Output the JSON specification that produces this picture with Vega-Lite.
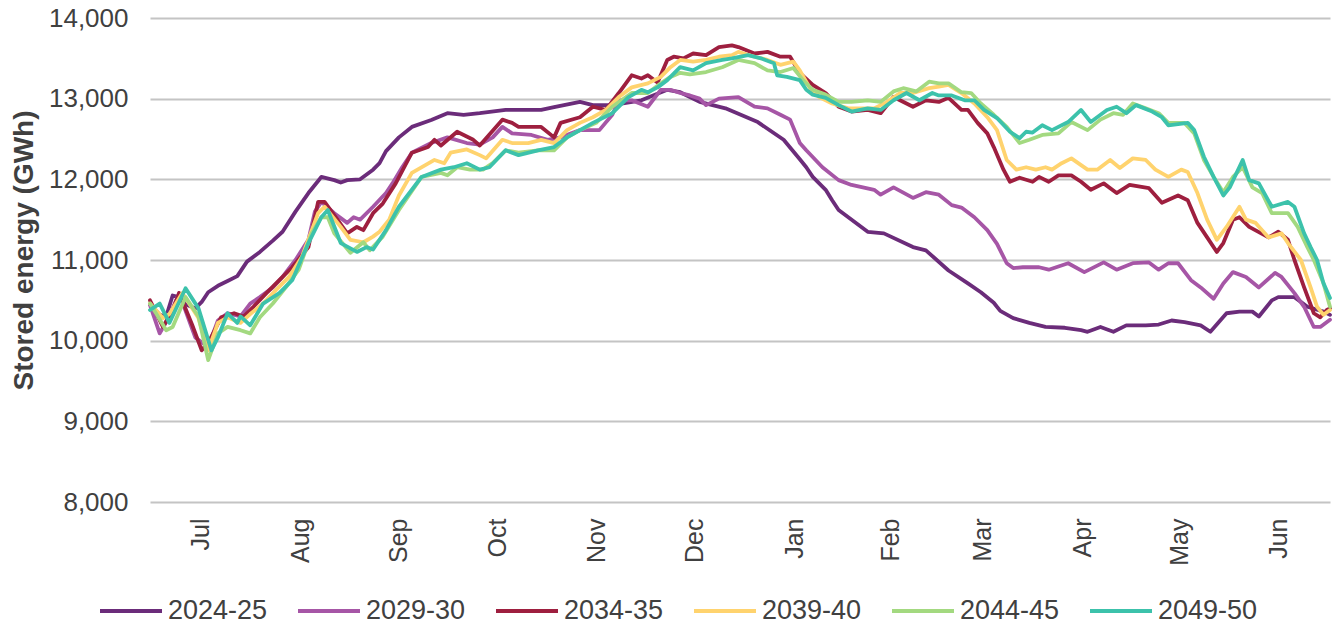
{
  "$schema": "https://vega.github.io/schema/vega-lite/v6.json",
  "width": 1180,
  "height": 484,
  "autosize": {"type": "none"},
  "padding": {"left": 150, "top": 18, "right": 8, "bottom": 128},
  "background": "white",
  "config": {
    "font": "Liberation Sans",
    "view": {"stroke": null},
    "axis": {"labelColor": "#404040", "titleColor": "#404040"}
  },
  "data": {
    "values": [
      {"series":"2024-25","day":0,"gwh":10450},{"series":"2024-25","day":3,"gwh":10320},{"series":"2024-25","day":5,"gwh":10300},{"series":"2024-25","day":7,"gwh":10560},{"series":"2024-25","day":9,"gwh":10540},{"series":"2024-25","day":11,"gwh":10450},{"series":"2024-25","day":14,"gwh":10400},{"series":"2024-25","day":16,"gwh":10480},{"series":"2024-25","day":18,"gwh":10600},{"series":"2024-25","day":21,"gwh":10680},{"series":"2024-25","day":24,"gwh":10740},{"series":"2024-25","day":27,"gwh":10800},{"series":"2024-25","day":30,"gwh":10980},{"series":"2024-25","day":34,"gwh":11100},{"series":"2024-25","day":38,"gwh":11240},{"series":"2024-25","day":41,"gwh":11350},{"series":"2024-25","day":45,"gwh":11600},{"series":"2024-25","day":49,"gwh":11830},{"series":"2024-25","day":52,"gwh":11980},{"series":"2024-25","day":53,"gwh":12030},{"series":"2024-25","day":57,"gwh":11990},{"series":"2024-25","day":59,"gwh":11960},{"series":"2024-25","day":61,"gwh":11990},{"series":"2024-25","day":65,"gwh":12000},{"series":"2024-25","day":69,"gwh":12120},{"series":"2024-25","day":71,"gwh":12200},{"series":"2024-25","day":73,"gwh":12350},{"series":"2024-25","day":77,"gwh":12520},{"series":"2024-25","day":81,"gwh":12650},{"series":"2024-25","day":87,"gwh":12735},{"series":"2024-25","day":92,"gwh":12820},{"series":"2024-25","day":97,"gwh":12800},{"series":"2024-25","day":102,"gwh":12820},{"series":"2024-25","day":110,"gwh":12860},{"series":"2024-25","day":121,"gwh":12860},{"series":"2024-25","day":125,"gwh":12895},{"series":"2024-25","day":133,"gwh":12960},{"series":"2024-25","day":137,"gwh":12920},{"series":"2024-25","day":143,"gwh":12920},{"series":"2024-25","day":152,"gwh":12980},{"series":"2024-25","day":160,"gwh":13110},{"series":"2024-25","day":164,"gwh":13080},{"series":"2024-25","day":170,"gwh":12960},{"series":"2024-25","day":178,"gwh":12880},{"series":"2024-25","day":188,"gwh":12710},{"series":"2024-25","day":196,"gwh":12490},{"series":"2024-25","day":201,"gwh":12250},{"series":"2024-25","day":203,"gwh":12150},{"series":"2024-25","day":205,"gwh":12030},{"series":"2024-25","day":209,"gwh":11870},{"series":"2024-25","day":211,"gwh":11740},{"series":"2024-25","day":213,"gwh":11620},{"series":"2024-25","day":222,"gwh":11350},{"series":"2024-25","day":227,"gwh":11330},{"series":"2024-25","day":236,"gwh":11160},{"series":"2024-25","day":240,"gwh":11120},{"series":"2024-25","day":247,"gwh":10870},{"series":"2024-25","day":253,"gwh":10710},{"series":"2024-25","day":257,"gwh":10600},{"series":"2024-25","day":261,"gwh":10470},{"series":"2024-25","day":263,"gwh":10370},{"series":"2024-25","day":267,"gwh":10280},{"series":"2024-25","day":272,"gwh":10220},{"series":"2024-25","day":277,"gwh":10170},{"series":"2024-25","day":283,"gwh":10160},{"series":"2024-25","day":288,"gwh":10130},{"series":"2024-25","day":290,"gwh":10110},{"series":"2024-25","day":294,"gwh":10170},{"series":"2024-25","day":298,"gwh":10110},{"series":"2024-25","day":302,"gwh":10190},{"series":"2024-25","day":308,"gwh":10190},{"series":"2024-25","day":312,"gwh":10200},{"series":"2024-25","day":316,"gwh":10250},{"series":"2024-25","day":320,"gwh":10230},{"series":"2024-25","day":325,"gwh":10190},{"series":"2024-25","day":328,"gwh":10110},{"series":"2024-25","day":333,"gwh":10340},{"series":"2024-25","day":337,"gwh":10360},{"series":"2024-25","day":341,"gwh":10360},{"series":"2024-25","day":343,"gwh":10300},{"series":"2024-25","day":347,"gwh":10500},{"series":"2024-25","day":349,"gwh":10540},{"series":"2024-25","day":354,"gwh":10540},{"series":"2024-25","day":358,"gwh":10420},{"series":"2024-25","day":363,"gwh":10360},{"series":"2024-25","day":365,"gwh":10320},

      {"series":"2029-30","day":0,"gwh":10440},{"series":"2029-30","day":3,"gwh":10090},{"series":"2029-30","day":6,"gwh":10300},{"series":"2029-30","day":9,"gwh":10590},{"series":"2029-30","day":14,"gwh":10040},{"series":"2029-30","day":18,"gwh":9920},{"series":"2029-30","day":21,"gwh":10250},{"series":"2029-30","day":24,"gwh":10340},{"series":"2029-30","day":28,"gwh":10300},{"series":"2029-30","day":31,"gwh":10460},{"series":"2029-30","day":34,"gwh":10540},{"series":"2029-30","day":38,"gwh":10660},{"series":"2029-30","day":41,"gwh":10790},{"series":"2029-30","day":45,"gwh":11000},{"series":"2029-30","day":49,"gwh":11250},{"series":"2029-30","day":51,"gwh":11600},{"series":"2029-30","day":53,"gwh":11720},{"series":"2029-30","day":57,"gwh":11580},{"series":"2029-30","day":61,"gwh":11460},{"series":"2029-30","day":63,"gwh":11530},{"series":"2029-30","day":65,"gwh":11500},{"series":"2029-30","day":69,"gwh":11660},{"series":"2029-30","day":73,"gwh":11830},{"series":"2029-30","day":75,"gwh":11950},{"series":"2029-30","day":78,"gwh":12150},{"series":"2029-30","day":81,"gwh":12330},{"series":"2029-30","day":87,"gwh":12450},{"series":"2029-30","day":92,"gwh":12520},{"series":"2029-30","day":98,"gwh":12450},{"series":"2029-30","day":102,"gwh":12430},{"series":"2029-30","day":106,"gwh":12520},{"series":"2029-30","day":109,"gwh":12650},{"series":"2029-30","day":112,"gwh":12570},{"series":"2029-30","day":118,"gwh":12550},{"series":"2029-30","day":123,"gwh":12490},{"series":"2029-30","day":127,"gwh":12520},{"series":"2029-30","day":133,"gwh":12610},{"series":"2029-30","day":139,"gwh":12610},{"series":"2029-30","day":143,"gwh":12800},{"series":"2029-30","day":145,"gwh":12980},{"series":"2029-30","day":149,"gwh":12980},{"series":"2029-30","day":154,"gwh":12900},{"series":"2029-30","day":158,"gwh":13110},{"series":"2029-30","day":161,"gwh":13110},{"series":"2029-30","day":164,"gwh":13070},{"series":"2029-30","day":167,"gwh":13040},{"series":"2029-30","day":170,"gwh":13000},{"series":"2029-30","day":172,"gwh":12920},{"series":"2029-30","day":176,"gwh":13000},{"series":"2029-30","day":182,"gwh":13020},{"series":"2029-30","day":187,"gwh":12900},{"series":"2029-30","day":191,"gwh":12880},{"series":"2029-30","day":195,"gwh":12800},{"series":"2029-30","day":198,"gwh":12740},{"series":"2029-30","day":201,"gwh":12450},{"series":"2029-30","day":203,"gwh":12360},{"series":"2029-30","day":208,"gwh":12150},{"series":"2029-30","day":213,"gwh":11990},{"series":"2029-30","day":217,"gwh":11930},{"series":"2029-30","day":224,"gwh":11870},{"series":"2029-30","day":226,"gwh":11810},{"series":"2029-30","day":230,"gwh":11900},{"series":"2029-30","day":236,"gwh":11770},{"series":"2029-30","day":240,"gwh":11840},{"series":"2029-30","day":244,"gwh":11810},{"series":"2029-30","day":248,"gwh":11680},{"series":"2029-30","day":251,"gwh":11650},{"series":"2029-30","day":255,"gwh":11530},{"series":"2029-30","day":259,"gwh":11370},{"series":"2029-30","day":262,"gwh":11200},{"series":"2029-30","day":265,"gwh":10960},{"series":"2029-30","day":267,"gwh":10900},{"series":"2029-30","day":270,"gwh":10910},{"series":"2029-30","day":275,"gwh":10910},{"series":"2029-30","day":278,"gwh":10880},{"series":"2029-30","day":284,"gwh":10960},{"series":"2029-30","day":289,"gwh":10850},{"series":"2029-30","day":295,"gwh":10970},{"series":"2029-30","day":299,"gwh":10880},{"series":"2029-30","day":304,"gwh":10960},{"series":"2029-30","day":309,"gwh":10970},{"series":"2029-30","day":312,"gwh":10880},{"series":"2029-30","day":315,"gwh":10960},{"series":"2029-30","day":318,"gwh":10960},{"series":"2029-30","day":322,"gwh":10750},{"series":"2029-30","day":325,"gwh":10660},{"series":"2029-30","day":329,"gwh":10520},{"series":"2029-30","day":332,"gwh":10710},{"series":"2029-30","day":335,"gwh":10850},{"series":"2029-30","day":339,"gwh":10790},{"series":"2029-30","day":343,"gwh":10660},{"series":"2029-30","day":348,"gwh":10840},{"series":"2029-30","day":350,"gwh":10790},{"series":"2029-30","day":354,"gwh":10590},{"series":"2029-30","day":357,"gwh":10420},{"series":"2029-30","day":360,"gwh":10170},{"series":"2029-30","day":362,"gwh":10170},{"series":"2029-30","day":365,"gwh":10260},

      {"series":"2034-35","day":0,"gwh":10500},{"series":"2034-35","day":4,"gwh":10170},{"series":"2034-35","day":7,"gwh":10380},{"series":"2034-35","day":9,"gwh":10590},{"series":"2034-35","day":13,"gwh":10200},{"series":"2034-35","day":16,"gwh":9880},{"series":"2034-35","day":18,"gwh":9970},{"series":"2034-35","day":22,"gwh":10290},{"series":"2034-35","day":26,"gwh":10340},{"series":"2034-35","day":29,"gwh":10300},{"series":"2034-35","day":32,"gwh":10420},{"series":"2034-35","day":36,"gwh":10590},{"series":"2034-35","day":40,"gwh":10750},{"series":"2034-35","day":44,"gwh":10910},{"series":"2034-35","day":49,"gwh":11160},{"series":"2034-35","day":52,"gwh":11720},{"series":"2034-35","day":54,"gwh":11720},{"series":"2034-35","day":58,"gwh":11500},{"series":"2034-35","day":61,"gwh":11330},{"series":"2034-35","day":64,"gwh":11410},{"series":"2034-35","day":66,"gwh":11370},{"series":"2034-35","day":69,"gwh":11580},{"series":"2034-35","day":72,"gwh":11700},{"series":"2034-35","day":76,"gwh":11950},{"series":"2034-35","day":81,"gwh":12330},{"series":"2034-35","day":86,"gwh":12400},{"series":"2034-35","day":88,"gwh":12490},{"series":"2034-35","day":90,"gwh":12420},{"series":"2034-35","day":95,"gwh":12590},{"series":"2034-35","day":100,"gwh":12490},{"series":"2034-35","day":102,"gwh":12420},{"series":"2034-35","day":109,"gwh":12740},{"series":"2034-35","day":112,"gwh":12700},{"series":"2034-35","day":114,"gwh":12650},{"series":"2034-35","day":121,"gwh":12650},{"series":"2034-35","day":125,"gwh":12520},{"series":"2034-35","day":127,"gwh":12700},{"series":"2034-35","day":133,"gwh":12770},{"series":"2034-35","day":137,"gwh":12900},{"series":"2034-35","day":141,"gwh":12860},{"series":"2034-35","day":145,"gwh":13070},{"series":"2034-35","day":149,"gwh":13290},{"series":"2034-35","day":152,"gwh":13250},{"series":"2034-35","day":154,"gwh":13290},{"series":"2034-35","day":157,"gwh":13200},{"series":"2034-35","day":160,"gwh":13480},{"series":"2034-35","day":162,"gwh":13520},{"series":"2034-35","day":165,"gwh":13500},{"series":"2034-35","day":168,"gwh":13560},{"series":"2034-35","day":172,"gwh":13540},{"series":"2034-35","day":176,"gwh":13640},{"series":"2034-35","day":180,"gwh":13660},{"series":"2034-35","day":182,"gwh":13640},{"series":"2034-35","day":187,"gwh":13560},{"series":"2034-35","day":191,"gwh":13580},{"series":"2034-35","day":195,"gwh":13520},{"series":"2034-35","day":198,"gwh":13520},{"series":"2034-35","day":201,"gwh":13320},{"series":"2034-35","day":205,"gwh":13170},{"series":"2034-35","day":209,"gwh":13070},{"series":"2034-35","day":213,"gwh":12900},{"series":"2034-35","day":217,"gwh":12840},{"series":"2034-35","day":222,"gwh":12860},{"series":"2034-35","day":226,"gwh":12820},{"series":"2034-35","day":230,"gwh":13020},{"series":"2034-35","day":236,"gwh":12900},{"series":"2034-35","day":240,"gwh":12980},{"series":"2034-35","day":244,"gwh":12960},{"series":"2034-35","day":247,"gwh":13010},{"series":"2034-35","day":251,"gwh":12860},{"series":"2034-35","day":253,"gwh":12860},{"series":"2034-35","day":256,"gwh":12700},{"series":"2034-35","day":259,"gwh":12570},{"series":"2034-35","day":261,"gwh":12400},{"series":"2034-35","day":264,"gwh":12120},{"series":"2034-35","day":266,"gwh":11970},{"series":"2034-35","day":269,"gwh":12020},{"series":"2034-35","day":273,"gwh":11970},{"series":"2034-35","day":275,"gwh":12030},{"series":"2034-35","day":278,"gwh":11970},{"series":"2034-35","day":281,"gwh":12050},{"series":"2034-35","day":285,"gwh":12050},{"series":"2034-35","day":288,"gwh":11970},{"series":"2034-35","day":291,"gwh":11870},{"series":"2034-35","day":295,"gwh":11950},{"series":"2034-35","day":299,"gwh":11830},{"series":"2034-35","day":303,"gwh":11930},{"series":"2034-35","day":309,"gwh":11890},{"series":"2034-35","day":313,"gwh":11710},{"series":"2034-35","day":318,"gwh":11800},{"series":"2034-35","day":321,"gwh":11740},{"series":"2034-35","day":324,"gwh":11460},{"series":"2034-35","day":327,"gwh":11280},{"series":"2034-35","day":330,"gwh":11100},{"series":"2034-35","day":332,"gwh":11210},{"series":"2034-35","day":335,"gwh":11500},{"series":"2034-35","day":337,"gwh":11530},{"series":"2034-35","day":340,"gwh":11410},{"series":"2034-35","day":346,"gwh":11280},{"series":"2034-35","day":349,"gwh":11350},{"series":"2034-35","day":352,"gwh":11250},{"series":"2034-35","day":354,"gwh":11000},{"series":"2034-35","day":357,"gwh":10660},{"series":"2034-35","day":360,"gwh":10340},{"series":"2034-35","day":362,"gwh":10290},{"series":"2034-35","day":364,"gwh":10380},{"series":"2034-35","day":365,"gwh":10400},

      {"series":"2039-40","day":0,"gwh":10460},{"series":"2039-40","day":4,"gwh":10280},{"series":"2039-40","day":6,"gwh":10330},{"series":"2039-40","day":10,"gwh":10590},{"series":"2039-40","day":15,"gwh":10280},{"series":"2039-40","day":18,"gwh":9880},{"series":"2039-40","day":21,"gwh":10220},{"series":"2039-40","day":24,"gwh":10290},{"series":"2039-40","day":28,"gwh":10220},{"series":"2039-40","day":31,"gwh":10330},{"series":"2039-40","day":35,"gwh":10460},{"series":"2039-40","day":39,"gwh":10630},{"series":"2039-40","day":43,"gwh":10790},{"series":"2039-40","day":47,"gwh":11040},{"series":"2039-40","day":52,"gwh":11580},{"series":"2039-40","day":54,"gwh":11660},{"series":"2039-40","day":59,"gwh":11410},{"series":"2039-40","day":62,"gwh":11250},{"series":"2039-40","day":66,"gwh":11220},{"series":"2039-40","day":69,"gwh":11290},{"series":"2039-40","day":71,"gwh":11350},{"series":"2039-40","day":74,"gwh":11500},{"series":"2039-40","day":77,"gwh":11800},{"series":"2039-40","day":81,"gwh":12080},{"series":"2039-40","day":88,"gwh":12240},{"series":"2039-40","day":91,"gwh":12200},{"series":"2039-40","day":93,"gwh":12330},{"series":"2039-40","day":98,"gwh":12370},{"series":"2039-40","day":102,"gwh":12300},{"series":"2039-40","day":104,"gwh":12260},{"series":"2039-40","day":109,"gwh":12490},{"series":"2039-40","day":112,"gwh":12450},{"series":"2039-40","day":117,"gwh":12450},{"series":"2039-40","day":121,"gwh":12490},{"series":"2039-40","day":125,"gwh":12450},{"series":"2039-40","day":129,"gwh":12610},{"series":"2039-40","day":133,"gwh":12700},{"series":"2039-40","day":137,"gwh":12770},{"series":"2039-40","day":141,"gwh":12860},{"series":"2039-40","day":145,"gwh":13020},{"series":"2039-40","day":149,"gwh":13140},{"series":"2039-40","day":154,"gwh":13190},{"series":"2039-40","day":158,"gwh":13270},{"series":"2039-40","day":161,"gwh":13390},{"series":"2039-40","day":164,"gwh":13480},{"series":"2039-40","day":168,"gwh":13460},{"series":"2039-40","day":172,"gwh":13480},{"series":"2039-40","day":176,"gwh":13520},{"series":"2039-40","day":180,"gwh":13540},{"series":"2039-40","day":182,"gwh":13580},{"series":"2039-40","day":187,"gwh":13520},{"series":"2039-40","day":191,"gwh":13480},{"series":"2039-40","day":195,"gwh":13420},{"series":"2039-40","day":199,"gwh":13460},{"series":"2039-40","day":201,"gwh":13350},{"series":"2039-40","day":204,"gwh":13140},{"series":"2039-40","day":207,"gwh":13020},{"series":"2039-40","day":211,"gwh":12940},{"series":"2039-40","day":216,"gwh":12880},{"series":"2039-40","day":220,"gwh":12880},{"series":"2039-40","day":224,"gwh":12880},{"series":"2039-40","day":228,"gwh":12960},{"series":"2039-40","day":232,"gwh":13070},{"series":"2039-40","day":236,"gwh":13070},{"series":"2039-40","day":241,"gwh":13130},{"series":"2039-40","day":244,"gwh":13150},{"series":"2039-40","day":247,"gwh":13170},{"series":"2039-40","day":251,"gwh":13070},{"series":"2039-40","day":255,"gwh":12940},{"series":"2039-40","day":259,"gwh":12770},{"series":"2039-40","day":262,"gwh":12610},{"series":"2039-40","day":265,"gwh":12240},{"series":"2039-40","day":268,"gwh":12120},{"series":"2039-40","day":271,"gwh":12150},{"series":"2039-40","day":274,"gwh":12120},{"series":"2039-40","day":277,"gwh":12150},{"series":"2039-40","day":279,"gwh":12120},{"series":"2039-40","day":282,"gwh":12200},{"series":"2039-40","day":285,"gwh":12260},{"series":"2039-40","day":290,"gwh":12120},{"series":"2039-40","day":293,"gwh":12120},{"series":"2039-40","day":297,"gwh":12240},{"series":"2039-40","day":300,"gwh":12140},{"series":"2039-40","day":304,"gwh":12260},{"series":"2039-40","day":308,"gwh":12240},{"series":"2039-40","day":311,"gwh":12120},{"series":"2039-40","day":315,"gwh":12030},{"series":"2039-40","day":319,"gwh":12120},{"series":"2039-40","day":321,"gwh":12090},{"series":"2039-40","day":324,"gwh":11830},{"series":"2039-40","day":327,"gwh":11500},{"series":"2039-40","day":330,"gwh":11250},{"series":"2039-40","day":333,"gwh":11410},{"series":"2039-40","day":337,"gwh":11660},{"series":"2039-40","day":339,"gwh":11500},{"series":"2039-40","day":342,"gwh":11460},{"series":"2039-40","day":346,"gwh":11280},{"series":"2039-40","day":350,"gwh":11330},{"series":"2039-40","day":352,"gwh":11210},{"series":"2039-40","day":356,"gwh":11000},{"series":"2039-40","day":359,"gwh":10660},{"series":"2039-40","day":361,"gwh":10420},{"series":"2039-40","day":363,"gwh":10320},{"series":"2039-40","day":365,"gwh":10380},

      {"series":"2044-45","day":0,"gwh":10460},{"series":"2044-45","day":2,"gwh":10330},{"series":"2044-45","day":5,"gwh":10130},{"series":"2044-45","day":7,"gwh":10170},{"series":"2044-45","day":11,"gwh":10540},{"series":"2044-45","day":15,"gwh":10300},{"series":"2044-45","day":18,"gwh":9760},{"series":"2044-45","day":21,"gwh":10090},{"series":"2044-45","day":24,"gwh":10170},{"series":"2044-45","day":28,"gwh":10130},{"series":"2044-45","day":31,"gwh":10090},{"series":"2044-45","day":34,"gwh":10290},{"series":"2044-45","day":38,"gwh":10460},{"series":"2044-45","day":42,"gwh":10660},{"series":"2044-45","day":46,"gwh":10880},{"series":"2044-45","day":50,"gwh":11330},{"series":"2044-45","day":53,"gwh":11530},{"series":"2044-45","day":55,"gwh":11530},{"series":"2044-45","day":57,"gwh":11330},{"series":"2044-45","day":62,"gwh":11090},{"series":"2044-45","day":66,"gwh":11220},{"series":"2044-45","day":68,"gwh":11120},{"series":"2044-45","day":72,"gwh":11290},{"series":"2044-45","day":77,"gwh":11620},{"series":"2044-45","day":84,"gwh":12030},{"series":"2044-45","day":90,"gwh":12080},{"series":"2044-45","day":92,"gwh":12050},{"series":"2044-45","day":95,"gwh":12150},{"series":"2044-45","day":99,"gwh":12120},{"series":"2044-45","day":103,"gwh":12120},{"series":"2044-45","day":106,"gwh":12200},{"series":"2044-45","day":110,"gwh":12360},{"series":"2044-45","day":114,"gwh":12330},{"series":"2044-45","day":120,"gwh":12360},{"series":"2044-45","day":125,"gwh":12360},{"series":"2044-45","day":129,"gwh":12520},{"series":"2044-45","day":133,"gwh":12610},{"series":"2044-45","day":138,"gwh":12700},{"series":"2044-45","day":143,"gwh":12900},{"series":"2044-45","day":149,"gwh":13070},{"series":"2044-45","day":154,"gwh":13070},{"series":"2044-45","day":158,"gwh":13190},{"series":"2044-45","day":161,"gwh":13270},{"series":"2044-45","day":164,"gwh":13320},{"series":"2044-45","day":167,"gwh":13300},{"series":"2044-45","day":172,"gwh":13330},{"series":"2044-45","day":177,"gwh":13390},{"series":"2044-45","day":182,"gwh":13480},{"series":"2044-45","day":187,"gwh":13440},{"series":"2044-45","day":191,"gwh":13350},{"series":"2044-45","day":195,"gwh":13330},{"series":"2044-45","day":199,"gwh":13380},{"series":"2044-45","day":202,"gwh":13230},{"series":"2044-45","day":205,"gwh":13110},{"series":"2044-45","day":209,"gwh":13050},{"series":"2044-45","day":213,"gwh":12960},{"series":"2044-45","day":217,"gwh":12960},{"series":"2044-45","day":222,"gwh":12980},{"series":"2044-45","day":226,"gwh":12960},{"series":"2044-45","day":230,"gwh":13090},{"series":"2044-45","day":233,"gwh":13130},{"series":"2044-45","day":237,"gwh":13090},{"series":"2044-45","day":241,"gwh":13210},{"series":"2044-45","day":244,"gwh":13190},{"series":"2044-45","day":247,"gwh":13190},{"series":"2044-45","day":251,"gwh":13080},{"series":"2044-45","day":254,"gwh":13070},{"series":"2044-45","day":257,"gwh":12940},{"series":"2044-45","day":261,"gwh":12800},{"series":"2044-45","day":265,"gwh":12650},{"series":"2044-45","day":269,"gwh":12450},{"series":"2044-45","day":272,"gwh":12490},{"series":"2044-45","day":276,"gwh":12550},{"series":"2044-45","day":281,"gwh":12570},{"series":"2044-45","day":285,"gwh":12710},{"series":"2044-45","day":290,"gwh":12610},{"series":"2044-45","day":294,"gwh":12740},{"series":"2044-45","day":298,"gwh":12820},{"series":"2044-45","day":301,"gwh":12800},{"series":"2044-45","day":304,"gwh":12940},{"series":"2044-45","day":308,"gwh":12880},{"series":"2044-45","day":312,"gwh":12820},{"series":"2044-45","day":315,"gwh":12700},{"series":"2044-45","day":320,"gwh":12700},{"series":"2044-45","day":323,"gwh":12570},{"series":"2044-45","day":326,"gwh":12240},{"series":"2044-45","day":329,"gwh":12030},{"series":"2044-45","day":332,"gwh":11840},{"series":"2044-45","day":335,"gwh":12030},{"series":"2044-45","day":338,"gwh":12150},{"series":"2044-45","day":341,"gwh":11900},{"series":"2044-45","day":344,"gwh":11830},{"series":"2044-45","day":347,"gwh":11580},{"series":"2044-45","day":352,"gwh":11580},{"series":"2044-45","day":355,"gwh":11410},{"series":"2044-45","day":358,"gwh":11160},{"series":"2044-45","day":360,"gwh":11000},{"series":"2044-45","day":363,"gwh":10710},{"series":"2044-45","day":365,"gwh":10420},

      {"series":"2049-50","day":0,"gwh":10380},{"series":"2049-50","day":3,"gwh":10460},{"series":"2049-50","day":6,"gwh":10220},{"series":"2049-50","day":11,"gwh":10650},{"series":"2049-50","day":15,"gwh":10400},{"series":"2049-50","day":19,"gwh":9880},{"series":"2049-50","day":21,"gwh":10040},{"series":"2049-50","day":24,"gwh":10340},{"series":"2049-50","day":27,"gwh":10220},{"series":"2049-50","day":28,"gwh":10300},{"series":"2049-50","day":31,"gwh":10190},{"series":"2049-50","day":35,"gwh":10460},{"series":"2049-50","day":40,"gwh":10590},{"series":"2049-50","day":44,"gwh":10750},{"series":"2049-50","day":49,"gwh":11210},{"series":"2049-50","day":53,"gwh":11530},{"series":"2049-50","day":55,"gwh":11620},{"series":"2049-50","day":59,"gwh":11210},{"series":"2049-50","day":64,"gwh":11100},{"series":"2049-50","day":67,"gwh":11160},{"series":"2049-50","day":69,"gwh":11130},{"series":"2049-50","day":73,"gwh":11370},{"series":"2049-50","day":77,"gwh":11660},{"series":"2049-50","day":84,"gwh":12030},{"series":"2049-50","day":90,"gwh":12120},{"series":"2049-50","day":94,"gwh":12150},{"series":"2049-50","day":98,"gwh":12200},{"series":"2049-50","day":102,"gwh":12120},{"series":"2049-50","day":105,"gwh":12150},{"series":"2049-50","day":110,"gwh":12360},{"series":"2049-50","day":114,"gwh":12300},{"series":"2049-50","day":120,"gwh":12360},{"series":"2049-50","day":125,"gwh":12400},{"series":"2049-50","day":129,"gwh":12520},{"series":"2049-50","day":133,"gwh":12610},{"series":"2049-50","day":137,"gwh":12700},{"series":"2049-50","day":143,"gwh":12820},{"series":"2049-50","day":148,"gwh":13020},{"series":"2049-50","day":152,"gwh":13110},{"series":"2049-50","day":154,"gwh":13080},{"series":"2049-50","day":157,"gwh":13140},{"series":"2049-50","day":160,"gwh":13230},{"series":"2049-50","day":164,"gwh":13390},{"series":"2049-50","day":168,"gwh":13350},{"series":"2049-50","day":172,"gwh":13440},{"series":"2049-50","day":177,"gwh":13480},{"series":"2049-50","day":180,"gwh":13500},{"series":"2049-50","day":185,"gwh":13540},{"series":"2049-50","day":189,"gwh":13500},{"series":"2049-50","day":193,"gwh":13440},{"series":"2049-50","day":194,"gwh":13290},{"series":"2049-50","day":197,"gwh":13270},{"series":"2049-50","day":201,"gwh":13230},{"series":"2049-50","day":203,"gwh":13110},{"series":"2049-50","day":205,"gwh":13050},{"series":"2049-50","day":209,"gwh":13010},{"series":"2049-50","day":213,"gwh":12920},{"series":"2049-50","day":217,"gwh":12840},{"series":"2049-50","day":222,"gwh":12880},{"series":"2049-50","day":226,"gwh":12860},{"series":"2049-50","day":230,"gwh":12980},{"series":"2049-50","day":234,"gwh":13070},{"series":"2049-50","day":238,"gwh":12980},{"series":"2049-50","day":242,"gwh":13070},{"series":"2049-50","day":244,"gwh":13040},{"series":"2049-50","day":248,"gwh":13040},{"series":"2049-50","day":252,"gwh":12980},{"series":"2049-50","day":255,"gwh":12980},{"series":"2049-50","day":258,"gwh":12860},{"series":"2049-50","day":262,"gwh":12760},{"series":"2049-50","day":266,"gwh":12590},{"series":"2049-50","day":269,"gwh":12510},{"series":"2049-50","day":271,"gwh":12590},{"series":"2049-50","day":273,"gwh":12580},{"series":"2049-50","day":276,"gwh":12670},{"series":"2049-50","day":279,"gwh":12610},{"series":"2049-50","day":284,"gwh":12710},{"series":"2049-50","day":288,"gwh":12860},{"series":"2049-50","day":291,"gwh":12710},{"series":"2049-50","day":296,"gwh":12860},{"series":"2049-50","day":299,"gwh":12900},{"series":"2049-50","day":302,"gwh":12820},{"series":"2049-50","day":305,"gwh":12920},{"series":"2049-50","day":310,"gwh":12840},{"series":"2049-50","day":313,"gwh":12770},{"series":"2049-50","day":315,"gwh":12670},{"series":"2049-50","day":321,"gwh":12700},{"series":"2049-50","day":323,"gwh":12610},{"series":"2049-50","day":326,"gwh":12280},{"series":"2049-50","day":329,"gwh":12030},{"series":"2049-50","day":332,"gwh":11800},{"series":"2049-50","day":334,"gwh":11900},{"series":"2049-50","day":338,"gwh":12240},{"series":"2049-50","day":340,"gwh":11990},{"series":"2049-50","day":343,"gwh":11950},{"series":"2049-50","day":347,"gwh":11660},{"series":"2049-50","day":352,"gwh":11720},{"series":"2049-50","day":354,"gwh":11660},{"series":"2049-50","day":357,"gwh":11330},{"series":"2049-50","day":359,"gwh":11160},{"series":"2049-50","day":361,"gwh":11000},{"series":"2049-50","day":363,"gwh":10710},{"series":"2049-50","day":365,"gwh":10530}
    ]
  },
  "mark": {"type": "line", "strokeWidth": 3.8, "strokeJoin": "round", "strokeCap": "round"},
  "encoding": {
    "x": {
      "field": "day",
      "type": "quantitative",
      "scale": {"domain": [0, 365], "nice": false, "zero": false},
      "axis": {
        "title": null,
        "values": [15.5, 46.5, 77, 107.5, 138, 168.5, 199.5, 229, 257.5, 288.5, 318.5, 349],
        "labelExpr": "['Jul','Aug','Sep','Oct','Nov','Dec','Jan','Feb','Mar','Apr','May','Jun'][round((datum.value-15)/30.4)]",
        "labelAngle": -90,
        "labelFontSize": 25,
        "labelPadding": 16,
        "ticks": false,
        "domain": false,
        "grid": false,
        "labelFlush": false,
        "labelOverlap": false
      }
    },
    "y": {
      "field": "gwh",
      "type": "quantitative",
      "scale": {"domain": [8000, 14000], "nice": false, "zero": false},
      "axis": {
        "title": "Stored energy (GWh)",
        "titleFontSize": 28,
        "titleFontWeight": "bold",
        "titleX": -126,
        "titleY": 232,
        "titleAngle": -90,
        "titleAlign": "center",
        "titleBaseline": "middle",
        "values": [8000, 9000, 10000, 11000, 12000, 13000, 14000],
        "format": ",.0f",
        "labelFontSize": 26,
        "labelPadding": 22,
        "ticks": false,
        "domain": false,
        "gridColor": "#C4C4C4",
        "gridWidth": 2
      }
    },
    "color": {
      "field": "series",
      "type": "nominal",
      "scale": {
        "domain": ["2024-25", "2029-30", "2034-35", "2039-40", "2044-45", "2049-50"],
        "range": ["#6B2C7A", "#A656A6", "#9E1F3F", "#FFD36E", "#A3D980", "#3CC2AB"]
      },
      "legend": {
        "title": null,
        "orient": "none",
        "direction": "horizontal",
        "legendX": -52,
        "legendY": 560,
        "symbolType": "stroke",
        "symbolSize": 3844,
        "symbolStrokeWidth": 4,
        "labelFontSize": 27,
        "labelColor": "#404040",
        "labelOffset": 4,
        "columnPadding": 22
      }
    }
  }
}
